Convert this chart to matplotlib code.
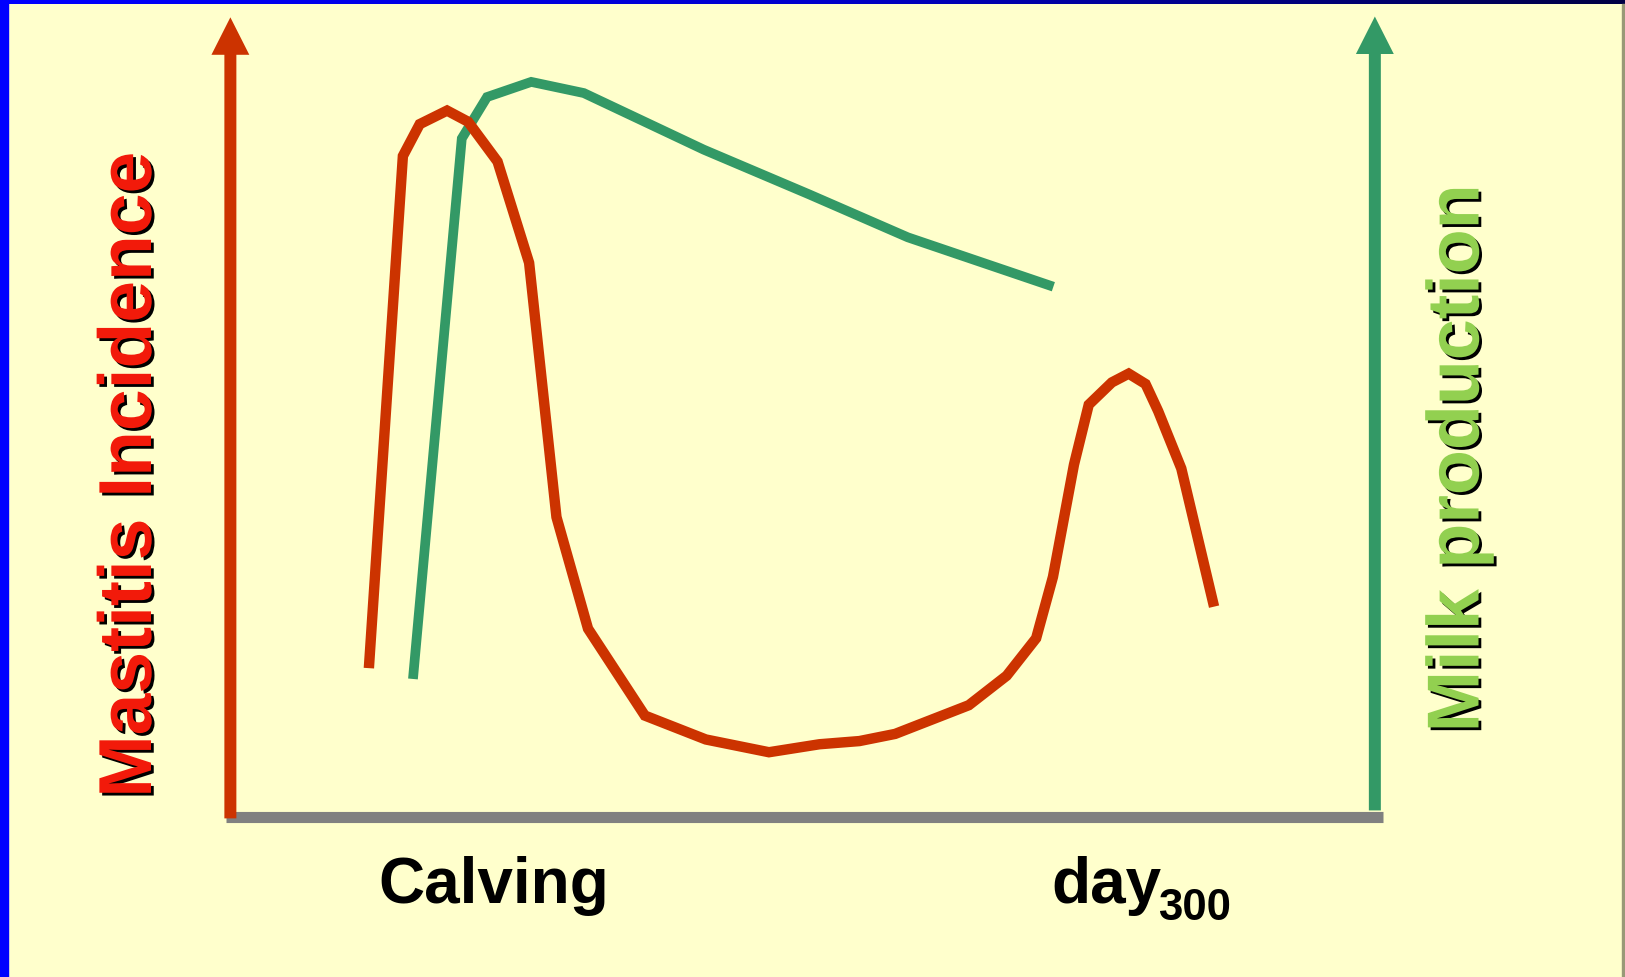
import numpy as np
import matplotlib.pyplot as plt
import matplotlib.patheffects as pe
from matplotlib.colors import LinearSegmentedColormap
from matplotlib.patches import Rectangle

# schematic values, x in days from calving, y in relative units (0-100)
mastitis_days = [-59, -43, -35, -22, -12, 2, 17, 30, 45, 72, 101, 131, 155, 174,
                 191, 226, 244, 258, 266, 276, 283, 294, 302, 310, 316, 327, 342]
mastitis_level = [19.0, 82.6, 86.6, 88.3, 86.9, 81.9, 69.2, 37.3, 23.3, 12.4, 9.4,
                  7.8, 8.8, 9.2, 10.1, 13.7, 17.4, 22.1, 29.8, 43.9, 51.4, 54.2,
                  55.3, 54.0, 50.6, 43.4, 26.7]

milk_days = [-38, -15, -3, 18, 43, 100, 150, 197, 264]
milk_level = [17.6, 84.8, 90.0, 91.9, 90.5, 83.4, 77.8, 72.4, 66.4]

x_labels = ['Calving', 'day']
x_label_pos = [0, 291.5]

red = '#CC3300'
green = '#339966'
bg = '#FFFFCC'

plt.rcParams['font.family'] = ['Liberation Sans', 'DejaVu Sans']

fig = plt.figure(figsize=(16.25, 9.78), dpi=100)
fig.patch.set_facecolor(bg)
ax = fig.add_axes([0, 0, 1, 1])
ax.set_facecolor(bg)
ax.set_xlim(-234.5, 537.9)
ax.set_ylim(-20.4, 102.3)
ax.axis('off')

# frame border: blue left, blue->navy top, grey right
fig.patches.append(Rectangle((0, 0), 0.005, 1, transform=fig.transFigure, color='#0000FF', zorder=10))
top = fig.add_axes([0, 0.995, 1, 0.005])
top.imshow(np.linspace(0, 1, 256)[None, :], aspect='auto',
           cmap=LinearSegmentedColormap.from_list('bar', ['#0000FF', '#0000CC', '#000044']))
top.axis('off')
fig.patches.append(Rectangle((0.998, 0), 0.002, 0.995, transform=fig.transFigure, color='#999977', zorder=10))

# axes
x_left, x_right = -127, 423
ax.plot([x_left, x_right], [-0.3, -0.3], color='#808080', lw=8, solid_capstyle='butt', zorder=1)
ax.arrow(-125, -0.5, 0, 100.5, width=5.7, head_width=18, head_length=4.7,
         length_includes_head=True, color=red, lw=0, zorder=2)
ax.arrow(419, 0.5, 0, 99.6, width=5.7, head_width=18, head_length=4.7,
         length_includes_head=True, color=green, lw=0, zorder=2)

# curves
ax.plot(milk_days, milk_level, color=green, lw=7, solid_joinstyle='miter', zorder=3)
ax.plot(mastitis_days, mastitis_level, color=red, lw=7.5, solid_joinstyle='miter', zorder=4)

shadow = [pe.SimplePatchShadow(offset=(2, -2), shadow_rgbFace='black', alpha=1), pe.Normal()]
ax.text(-172, 42.6, 'Mastitis Incidence', rotation=90, ha='center', va='center',
        fontsize=54, fontweight='bold', color='#F21A0A', path_effects=shadow)
ax.text(459, 44.7, 'Milk production', rotation=90, ha='center', va='center',
        fontsize=53, fontweight='bold', color='#92D050', path_effects=shadow)

ax.text(x_label_pos[0], -11, x_labels[0], ha='center', va='baseline',
        fontsize=46, fontweight='bold', color='black')
ax.annotate(x_labels[1], xy=(x_label_pos[1], -11), ha='center', va='baseline',
            fontsize=46, fontweight='bold', color='black')
ax.annotate('300', xy=(x_label_pos[1], -11), xytext=(37, -12), textcoords='offset points',
            ha='left', va='baseline', fontsize=31.5, fontweight='bold', color='black')

fig.savefig('out.png', dpi=100, facecolor=bg)
